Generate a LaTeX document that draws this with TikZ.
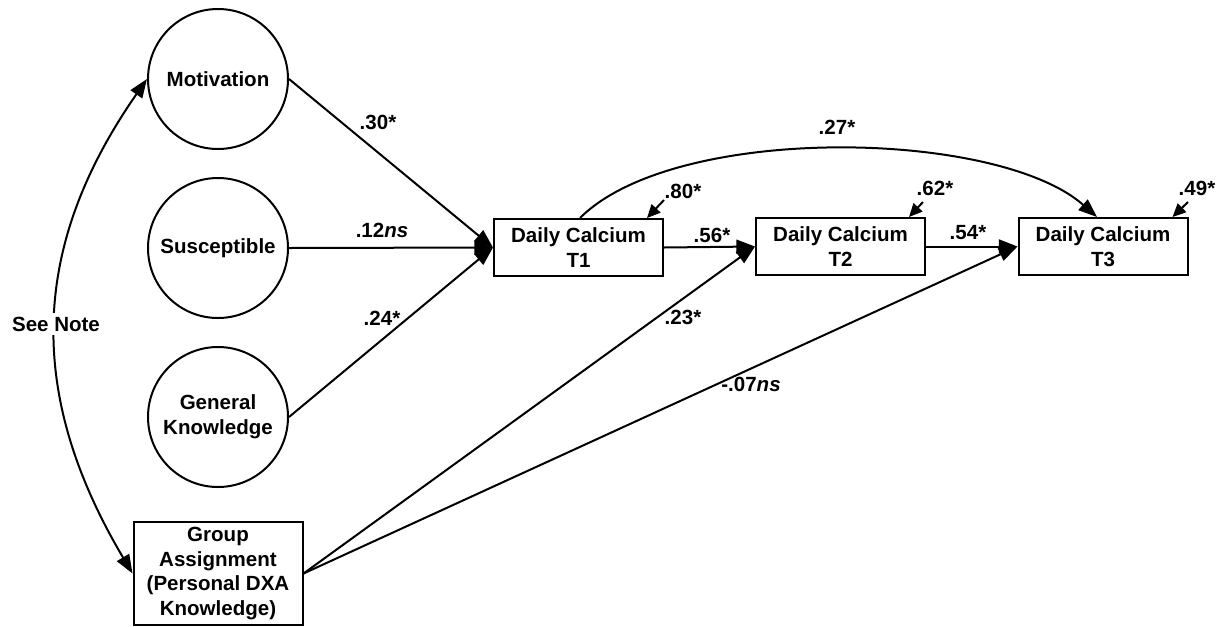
\documentclass[tikz,border=0pt]{standalone}
\usepackage{fontspec}
\setmainfont{Liberation Sans}
\usetikzlibrary{arrows.meta,calc}
\begin{document}
\begin{tikzpicture}[x=0.75pt,y=-0.75pt,
  every node/.style={font=\fontsize{15.4}{18.5}\selectfont\bfseries},
  latent/.style={draw,circle,line width=1.5pt,minimum size=105pt,inner sep=0pt,align=center},
  obs/.style={draw,rectangle,line width=1.5pt,minimum width=126.75pt,minimum height=42.75pt,inner sep=0pt,align=center},
  pathline/.style={line width=1.5pt,-{Triangle[length=14pt,width=10.5pt]}},
  resid/.style={line width=1.5pt,-{Triangle[length=10pt,width=9pt]}},
  lab/.style={inner sep=0pt}]
\useasboundingbox (0,0) rectangle (1222,626);

% nodes
\node[latent] (mot) at (218,79) {Motivation};
\node[latent] (sus) at (218,248) {Susceptible};
\node[latent] (gk) at (218,417) {General\\Knowledge};
\node[obs, minimum height=77.25pt] (grp) at (218,573.5) {Group\\Assignment\\(Personal DXA\\Knowledge)};
\node[obs] (t1) at (578.5,247.5) {Daily Calcium\\T1};
\node[obs] (t2) at (840.5,246.5) {Daily Calcium\\T2};
\node[obs] (t3) at (1103,246.5) {Daily Calcium\\T3};

% paths
\draw[pathline] (mot.east) -- (t1.west);
\draw[pathline] (sus.east) -- (t1.west);
\draw[pathline] (gk.east) -- (t1.west);
\draw[pathline] (t1.east) -- (t2.west);
\draw[pathline] (t2.east) -- (t3.west);
\draw[pathline] (grp.east) -- (t2.west);
\draw[pathline] (grp.east) -- (t3.west);
\draw[pathline] ($(t1.north)+(1.5,0)$) .. controls +(95,-95) and +(-100,-88) .. ($(t3.north)+(-6,0)$);

% covariance
\draw[line width=1.5pt,{Triangle[length=14pt,width=10.5pt]}-{Triangle[length=14pt,width=10.5pt]}]
  (mot.west) .. controls (28,250) and (28,397) .. (grp.west);
\node[fill=white,inner xsep=0pt,inner ysep=3pt] (note) at (56,324) {See Note};

% residuals
\coordinate (e1) at (664,200);
\coordinate (e2) at (923,202);
\coordinate (e3) at (1188,202);
\draw[resid] (e1) -- ($(t1.north east)+(-17,0)$);
\draw[resid] (e2) -- ($(t2.north east)+(-17,0)$);
\draw[resid] (e3) -- ($(t3.north east)+(-16,0)$);

% labels
\node[lab] (l30) at (378,122) {.30*};
\node[lab] (l12) at (382,230) {.12\textit{ns}};
\node[lab] (l24) at (382,318) {.24*};
\node[lab] (l56) at (712,235) {.56*};
\node[lab] (l54) at (968,233) {.54*};
\node[lab] (l27) at (837,127) {.27*};
\node[lab] (l23) at (683,317) {.23*};
\node[lab] (l07) at (751,384) {-.07\textit{ns}};
\node[lab] (l80) at (683,191) {.80*};
\node[lab] (l62) at (935,188) {.62*};
\node[lab] (l49) at (1197,188) {.49*};
\end{tikzpicture}
\end{document}
